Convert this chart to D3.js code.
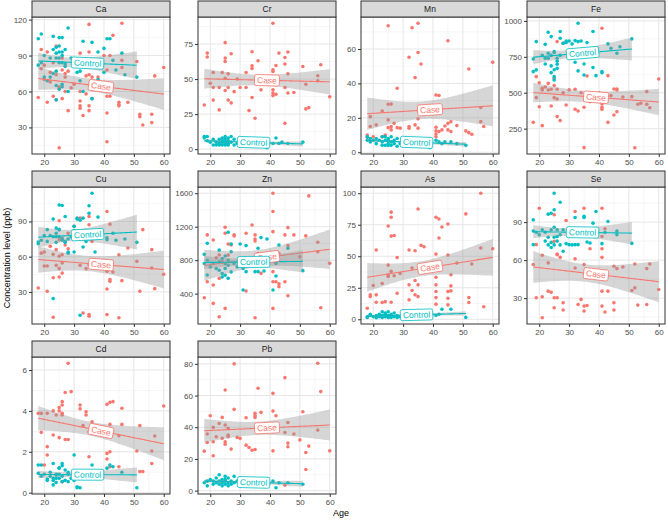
<!DOCTYPE html>
<html>
<head>
<meta charset="utf-8">
<script src="https://cdn.jsdelivr.net/npm/d3@7"></script>
<style>
  body { margin: 0; background: #fff; }
  text { font-family: "Liberation Sans", Arial, sans-serif; }
</style>
</head>
<body>
<div id="chart"></div>
<script>
"use strict";

/* Data: facets, groups, tick labels */
const elements = ["Ca", "Cr", "Mn", "Fe", "Cu", "Zn", "As", "Se", "Cd", "Pb"];
const groups = ["Case", "Control"];
const groupColors = ["#F8766D", "#00BFC4"];
const xTicks = [20, 30, 40, 50, 60];

const caTicks = [30, 60, 90, 120];
const crTicks = [0, 25, 50, 75];
const mnTicks = [0, 20, 40, 60];
const feTicks = [250, 500, 750, 1000];
const cuTicks = [30, 60, 90];
const znTicks = [400, 800, 1200, 1600];
const asTicks = [0, 25, 50, 75, 100];
const seTicks = [30, 60, 90];
const cdTicks = [0, 2, 4, 6];
const pbTicks = [0, 20, 40, 60, 80];

/* [age, concentration] pairs */
const caCase = [[18,55],[19,95],[19,79],[20,70],[21,93],[21,51],[22,68],[23,56],[24,53],[24,98],[25,13],[25,64],[25,62],[26,54],[26,88],[27,60],[27,75],[28,44],[28,77],[29,63],[30,66],[32,92],[32,60],[32,52],[32,48],[32,46],[33,40],[34,58],[34,73],[35,74],[35,116],[35,93],[35,48],[35,44],[36,54],[36,72],[38,72],[40,90],[41,78],[41,64],[41,42],[41,18],[41,56],[42,56],[42,90],[43,107],[46,80],[46,117],[46,86],[45,51],[45,49],[45,48],[48,51],[51,85],[52,41],[52,39],[53,32],[56,41],[56,34],[57,73],[60,80],[20,82],[22,76],[24,74],[26,78],[23,84],[27,72]];
const caControl = [[18,104],[19,108],[18,82],[19,84],[20,72],[21,69],[22,72],[23,95],[23,106],[23,75],[24,77],[24,97],[24,88],[24,65],[24,53],[25,105],[25,98],[25,93],[25,88],[25,84],[25,62],[26,105],[26,93],[26,84],[26,66],[26,64],[27,81],[27,95],[27,83],[28,113],[28,60],[29,88],[30,86],[31,76],[32,77],[32,69],[33,102],[33,60],[34,81],[36,101],[36,54],[38,93],[40,96],[41,104],[42,104],[43,86],[46,92],[51,72],[20,90],[22,88],[24,92],[26,90],[40,76],[44,78],[47,74],[38,70]];

const crCase = [[18,31.5],[19,68.5],[19,65.7],[20,47],[21,54.7],[21,35],[21,44],[23,28],[23,44],[24,54.7],[25,65],[25,62.6],[25,50.6],[25,41.8],[25,76],[26,53.7],[26,35],[26,44],[27,68],[27,33],[28,41],[29,50],[30,44],[32,54.7],[32,44],[33,27.5],[34,69.5],[34,57.5],[34,59.5],[34,36.8],[35,22],[36,63],[37,42.3],[41,89.8],[41,56.6],[41,55.4],[41,42.3],[41,40],[41,38.2],[42,39.2],[42,59.7],[43,68.5],[45,65.4],[45,60.7],[45,44],[45,18.4],[46,69.3],[46,53.7],[46,40],[48,40.4],[51,59],[52,46.3],[52,28.7],[53,29.6],[56,52.3],[56,48.7],[57,60.2],[60,37.3]];
const crControl = [[18,9],[18,8],[19,6],[19,9],[20,5],[21,7],[21,3],[22,3],[22,5],[23,3],[23,7],[23,4],[24,8],[24,3],[24,5],[24,6],[25,9],[25,4],[25,7],[25,3],[25,5],[26,8],[26,4],[26,6],[26,3],[27,9],[27,5],[28,3],[28,7],[29,4],[30,6],[31,5],[32,3],[33,4],[33,7],[34,5],[35,3],[39,1],[41,4],[42,8],[43,4],[44,5],[46,4],[51,5]];

const mnCase = [[18,10],[18,8.7],[19,20.7],[19,15],[20,9],[21,15.9],[23,24],[23,9],[24,10],[25,73.5],[25,18.8],[25,14.3],[25,27.9],[26,14.9],[26,28],[26,13],[27,16.8],[28,37.2],[28,14.3],[29,14],[32,55.2],[32,15],[32,14],[33,72.4],[34,43.4],[34,15.9],[35,75],[35,58],[36,51.3],[35,14],[35,19.4],[41,33.3],[42,33],[41,14.5],[41,12.4],[41,10.6],[41,9],[42,12],[43,13],[44,15.3],[45,64.8],[45,16.8],[45,13],[46,17.8],[46,12],[48,15.5],[51,12.4],[52,48.4],[52,11.4],[53,10.5],[56,26],[56,17.8],[57,15],[60,52.3]];
const mnControl = [[18,9],[18,7],[19,8],[19,6],[20,7],[21,8],[21,5],[22,7],[23,4],[23,9],[23,6],[24,4],[24,7],[24,9],[25,5],[25,8],[25,4],[25,7],[26,6],[26,9],[26,4],[27,7],[27,5],[28,8],[28,3.5],[29,5],[30,7],[31,4],[32,6],[33,5],[34,8],[35,5],[38,6],[39,2.6],[41,7],[42,6],[43,5],[44,6],[46,6],[48,5],[51,4]];

const feCase = [[18,294],[19,612],[19,466],[20,403],[21,531],[21,519],[21,271],[23,519],[24,408],[24,524],[25,601],[25,466],[26,524],[26,457],[26,334],[26,856],[27,306],[28,844],[29,415],[32,524],[32,385],[33,373],[35,118],[35,399],[36,617],[37,438],[41,949],[41,422],[41,399],[41,385],[43,619],[43,294],[45,526],[46,519],[45,345],[46,368],[46,526],[51,473],[52,117],[53,420],[54,427],[56,508],[56,420],[57,396],[60,596],[22,540],[28,500],[30,520],[34,500],[38,480],[40,500],[44,480],[48,470],[20,570],[23,565],[25,550]];
const feControl = [[18,735],[18,647],[19,856],[19,659],[22,740],[22,837],[23,921],[23,775],[23,740],[24,891],[24,687],[25,612],[25,589],[25,786],[26,740],[26,698],[26,670],[27,879],[27,926],[28,844],[29,860],[29,849],[32,863],[32,712],[33,652],[33,984],[33,856],[35,624],[36,849],[38,675],[38,926],[39,619],[41,647],[44,810],[46,775],[51,875],[21,760],[22,700],[24,760],[25,780],[26,720],[27,760],[24,640],[25,660],[30,860],[31,840],[34,860],[35,700],[41,640],[43,840],[47,820]];

const cuCase = [[18,33.4],[19,63],[20,52],[21,52],[21,30.6],[22,68.8],[23,42],[23,8.5],[24,52.6],[25,42.7],[25,50],[25,60.3],[25,74.4],[25,90.6],[26,75.8],[26,54.6],[26,46],[26,61.7],[27,70],[28,80],[28,66.8],[30,85.8],[32,52.6],[32,92.8],[33,12],[34,49.8],[35,87.2],[35,94.2],[35,53.2],[35,10.7],[35,9.3],[36,73],[41,98.5],[41,47.5],[41,32.5],[41,10.7],[42,87.7],[42,40.5],[42,39],[43,47],[45,61.7],[45,8],[46,39.6],[48,67.4],[51,56],[52,30.6],[53,83],[56,50.4],[56,66],[57,32.8],[60,45],[20,64],[23,62],[24,66]];
const cuControl = [[18,71],[18,72.4],[21,83],[23,24.3],[23,92],[24,84.3],[24,72.2],[25,83],[25,104],[26,103.6],[26,75.3],[27,94.2],[27,72.2],[28,64],[28,63],[30,85.8],[30,64],[31,92.8],[31,92],[32,10.2],[32,91],[33,92.8],[33,68.2],[35,103.3],[35,97],[36,114],[37,64],[38,93.7],[41,74.4],[43,80],[51,72.2],[19,74],[20,78],[21,73],[22,78],[23,77],[24,80],[25,77],[25,83],[26,74],[27,73],[28,75],[29,77],[30,82],[24,77],[34,73],[35,75],[41,76],[44,74],[47,75]];

const znCase = [[18,352],[19,1102],[19,543],[21,1042],[21,503],[21,284],[23,862],[23,583],[23,125],[25,1193],[25,1122],[25,224],[26,994],[27,982],[28,1102],[28,1090],[32,1122],[32,432],[34,1221],[35,1102],[35,1054],[35,112],[35,1030],[37,643],[41,1600],[41,1381],[41,1141],[41,663],[41,543],[41,224],[42,543],[43,484],[43,519],[45,543],[45,1102],[46,1189],[46,376],[46,974],[48,1102],[52,1090],[53,1568],[56,1014],[57,232],[60,763],[22,830],[24,780],[26,860],[30,800],[36,880],[43,880],[50,840],[56,900]];
const znControl = [[18,870],[19,1002],[19,623],[26,1134],[26,583],[27,994],[30,994],[31,444],[32,974],[32,663],[35,663],[36,663],[36,942],[37,1070],[38,671],[39,1054],[41,444],[42,611],[43,982],[46,942],[51,675],[18,760],[19,800],[20,720],[21,760],[22,700],[23,680],[23,780],[23,920],[24,640],[24,820],[24,600],[25,760],[25,700],[25,620],[25,850],[26,800],[26,740],[27,660],[27,900],[28,760],[29,720],[30,780],[31,700],[33,760],[34,820],[36,800],[42,760]];

const asCase = [[18,8.8],[19,18],[19,19.4],[20,26.8],[21,55],[21,19.4],[21,13.5],[23,28.4],[23,13.3],[24,14],[25,74],[25,43],[25,34],[25,35],[26,13.5],[26,85],[26,81],[26,38],[26,66],[27,66.5],[27,34.5],[28,49],[28,20.7],[29,36.3],[32,55],[32,27.3],[32,15.4],[33,40.6],[33,22.8],[34,54.4],[34,30.8],[34,19.4],[35,27.3],[35,87.5],[35,18],[36,58.6],[37,57.6],[41,51.7],[41,81],[42,79.6],[41,33.4],[41,22],[41,27.3],[41,17.2],[41,12],[42,64.5],[43,73.2],[45,75.6],[45,51],[45,22],[45,16.7],[45,11.4],[46,35.3],[46,26.5],[46,22.5],[48,44.6],[51,83.6],[52,17.2],[52,13.3],[53,43.8],[56,100],[56,56.5],[57,10],[60,56]];
const asControl = [[18,1.5],[18,2],[19,3],[19,4],[20,2],[21,3],[21,1.2],[22,2],[22,4],[23,3],[23,6],[23,1.5],[24,5],[24,2],[24,4],[25,1.5],[25,3],[25,6],[25,2],[26,4],[26,1.5],[26,3],[27,2],[27,5],[28,3],[28,1.5],[29,2],[30,3],[31,2],[32,4],[33,1.5],[34,3],[35,2],[41,3],[42,4],[43,8],[46,8],[51,1.5]];

const seCase = [[18,56.5],[19,72.2],[19,30.3],[20,101],[21,31],[21,63.8],[21,14.5],[23,35.5],[23,57.8],[24,34.7],[25,74.8],[25,30.3],[25,22.4],[25,95.8],[26,64.8],[26,64.3],[26,30.3],[27,62.2],[28,26.3],[28,20.6],[29,91.3],[32,98.4],[32,61],[32,53.8],[33,25],[34,29],[35,56.5],[35,101],[35,19.8],[35,23.7],[36,24.2],[37,69],[41,101],[41,78.7],[41,69],[41,62.2],[41,35.5],[41,23.7],[42,84.8],[42,19],[43,35.5],[45,55.2],[45,26.3],[45,20.6],[46,53.3],[48,54.6],[51,36],[52,38.1],[52,57],[53,24.5],[56,25],[56,53.3],[57,57],[60,36.8]];
const seControl = [[18,91.8],[18,72.2],[23,96.3],[24,97],[25,112.8],[25,99.7],[27,105.7],[26,78.7],[28,67],[30,72.2],[32,93.7],[32,72.2],[33,72.2],[35,94.5],[35,93.7],[36,74.3],[37,73.5],[38,89.2],[39,98.4],[41,73],[43,90.5],[46,80],[51,73.2],[18,83],[19,82],[20,80],[21,84],[22,82],[22,75],[23,78],[23,72],[24,84],[24,74],[24,70],[25,86],[25,78],[25,72],[26,84],[26,75],[27,80],[27,72],[28,84],[29,73],[30,83],[31,72],[34,80],[42,82],[46,83]];

const cdCase = [[18,3.88],[19,3.88],[19,2.95],[20,1.35],[21,2.25],[21,1.84],[21,3.88],[23,4],[23,2.82],[24,3.8],[25,4.16],[25,4],[25,2.69],[26,3.88],[26,4.45],[26,4.29],[26,3.8],[26,0.54],[27,2.6],[28,6.33],[28,2.6],[27,4.9],[29,4.94],[32,4.29],[32,4.1],[34,3.96],[34,3.8],[33,3.28],[35,2.98],[35,1.76],[36,3.47],[41,4.32],[42,4.42],[43,4.45],[41,1.92],[41,1.65],[42,2.0],[42,3.34],[42,1.27],[45,2.79],[45,1.27],[46,4.13],[46,3.34],[51,2.04],[52,3.28],[52,1.03],[53,1.03],[56,1.43],[56,2.04],[57,2.77],[60,4.24]];
const cdControl = [[18,1.35],[19,1.35],[18,0.95],[21,0.67],[23,1.43],[23,0.38],[24,0.86],[24,0.7],[25,1.22],[25,1.19],[26,1.43],[26,1.32],[26,0.54],[27,1.11],[28,0.9],[28,0.54],[30,1.84],[31,0.29],[31,0.24],[32,0.24],[36,1.35],[42,1.35],[43,1.27],[51,0.24],[19,0.8],[20,0.9],[21,0.6],[22,0.8],[22,1.0],[23,0.7],[23,0.6],[24,0.9],[24,0.5],[25,0.7],[25,0.9],[26,0.8],[27,0.6],[28,1.0],[29,0.7],[30,0.6],[31,0.9],[33,1.0],[34,0.8],[41,1.2],[46,1.0]];

const pbCase = [[18,24.9],[19,35.7],[19,30.4],[20,47.3],[21,39.9],[21,30.8],[21,22],[23,42.4],[24,46.2],[25,63.5],[25,41.4],[25,30.8],[25,29.3],[26,39.3],[26,34],[27,26.2],[28,80],[28,51.3],[29,33.6],[32,46],[32,28.7],[33,27.2],[34,25.5],[35,26],[35,48.8],[35,47.3],[35,46.2],[36,64.6],[37,49.4],[41,61.4],[41,50.2],[41,42.4],[41,25.1],[42,47.3],[45,71.3],[45,3.4],[45,36.7],[46,43],[46,27.7],[48,35.7],[51,49.8],[52,24.1],[52,13.3],[53,28.1],[56,80.4],[56,38.2],[57,62.5],[60,25.1],[22,34],[24,33],[26,35],[30,33],[46,30],[50,32]];
const pbControl = [[18,5],[19,6],[19,3],[20,7],[21,4],[21,6],[22,5],[22,8],[23,10],[23,6],[23,4],[24,7],[24,5],[24,3],[25,9],[25,6],[25,4],[25,7],[26,5],[26,8],[26,3],[27,6],[27,4],[28,9],[28,5],[29,6],[30,4],[31,5],[33,7],[34,5],[41,6],[42,1.8],[43,5],[46,5],[51,4]];

/* Build panel table from the named arrays */
const caseData = [caCase, crCase, mnCase, feCase, cuCase, znCase, asCase, seCase, cdCase, pbCase];
const controlData = [caControl, crControl, mnControl, feControl, cuControl, znControl, asControl, seControl, cdControl, pbControl];
const yTickList = [caTicks, crTicks, mnTicks, feTicks, cuTicks, znTicks, asTicks, seTicks, cdTicks, pbTicks];

/* Layout */
const svgWidth = 668;
const svgHeight = 521;
const colLeft = [32, 198, 361, 527];
const rowTop = [1, 171, 341];
const panelW = 138;
const panelH = 137;
const stripH = 16;

const svg = d3.select("#chart")
  .append("svg")
  .attr("width", svgWidth)
  .attr("height", svgHeight);

svg.append("rect")
  .attr("width", svgWidth)
  .attr("height", svgHeight)
  .attr("fill", "#fff");

/* t quantile (97.5%) approximation for the confidence band */
function tq(df) {
  const z = 1.959964;
  return z + (z ** 3 + z) / (4 * df) + (5 * z ** 5 + 16 * z ** 3 + 3 * z) / (96 * df * df);
}

/* Linear fit with 95% band, like geom_smooth(method = "lm") */
function lmFit(pts) {
  const n = pts.length;
  const mx = d3.mean(pts, d => d[0]);
  const my = d3.mean(pts, d => d[1]);
  let sxx = 0, sxy = 0;
  pts.forEach(d => { sxx += (d[0] - mx) ** 2; sxy += (d[0] - mx) * (d[1] - my); });
  const b = sxy / sxx;
  const a = my - b * mx;
  let sse = 0;
  pts.forEach(d => { sse += (d[1] - a - b * d[0]) ** 2; });
  const s = Math.sqrt(sse / (n - 2));
  const t = tq(n - 2);
  const x0 = d3.min(pts, d => d[0]);
  const x1 = d3.max(pts, d => d[0]);
  const curve = d3.range(80).map(i => {
    const x = x0 + (x1 - x0) * i / 79;
    const yh = a + b * x;
    const se = s * Math.sqrt(1 / n + (x - mx) ** 2 / sxx);
    return { x: x, y: yh, lo: yh - t * se, hi: yh + t * se };
  });
  return { a: a, b: b, x0: x0, x1: x1, curve: curve };
}

function expand(lo, hi) {
  const pad = (hi - lo) * 0.05;
  return [lo - pad, hi + pad];
}

/* Shared x scale */
const allAges = caseData.concat(controlData).flat().map(d => d[0]);
const xDomain = expand(d3.min(allAges), d3.max(allAges));

elements.forEach(function (el, i) {
  const col = i % 4;
  const row = Math.floor(i / 4);
  const left = colLeft[col];
  const top = rowTop[row] + stripH;
  const sets = [caseData[i], controlData[i]];
  const fits = sets.map(lmFit);

  const allY = sets.flat().map(d => d[1])
    .concat(fits.flatMap(f => f.curve.flatMap(c => [c.lo, c.hi])));
  const yDomain = expand(d3.min(allY), d3.max(allY));

  const xScale = d3.scaleLinear().domain(xDomain).range([0, panelW]);
  const yScale = d3.scaleLinear().domain(yDomain).range([panelH, 0]);

  const g = svg.append("g").attr("transform", "translate(" + left + "," + top + ")");

  /* grid: minor then major */
  const yTicks = yTickList[i];
  const step = yTicks[1] - yTicks[0];
  const yMinor = [];
  for (let v = yTicks[0] - step / 2; v <= yDomain[1]; v += step) {
    if (v >= yDomain[0]) yMinor.push(v);
  }
  const xMinor = [];
  for (let v = xTicks[0] - 5; v <= xDomain[1]; v += 10) {
    if (v >= xDomain[0]) xMinor.push(v);
  }
  g.selectAll(".ymin").data(yMinor).enter().append("line")
    .attr("x1", 0).attr("x2", panelW)
    .attr("y1", d => yScale(d)).attr("y2", d => yScale(d))
    .attr("stroke", "#f0f0f0").attr("stroke-width", 0.6);
  g.selectAll(".xmin").data(xMinor).enter().append("line")
    .attr("y1", 0).attr("y2", panelH)
    .attr("x1", d => xScale(d)).attr("x2", d => xScale(d))
    .attr("stroke", "#f0f0f0").attr("stroke-width", 0.6);
  g.selectAll(".ymaj").data(yTicks).enter().append("line")
    .attr("x1", 0).attr("x2", panelW)
    .attr("y1", d => yScale(d)).attr("y2", d => yScale(d))
    .attr("stroke", "#e6e6e6").attr("stroke-width", 1);
  g.selectAll(".xmaj").data(xTicks).enter().append("line")
    .attr("y1", 0).attr("y2", panelH)
    .attr("x1", d => xScale(d)).attr("x2", d => xScale(d))
    .attr("stroke", "#e6e6e6").attr("stroke-width", 1);

  /* points */
  sets.forEach(function (pts, k) {
    g.selectAll(".pt" + k).data(pts).enter().append("circle")
      .attr("cx", d => xScale(d[0]))
      .attr("cy", d => yScale(d[1]))
      .attr("r", 1.8)
      .attr("fill", groupColors[k]);
  });

  /* ribbons, lines and labels per group */
  fits.forEach(function (f, k) {
    const area = d3.area()
      .x(d => xScale(d.x))
      .y0(d => yScale(d.lo))
      .y1(d => yScale(d.hi));
    g.append("path")
      .attr("d", area(f.curve))
      .attr("fill", "#999999")
      .attr("fill-opacity", 0.4);
    const line = d3.line().x(d => xScale(d.x)).y(d => yScale(d.y));
    g.append("path")
      .attr("d", line(f.curve))
      .attr("fill", "none")
      .attr("stroke", groupColors[k])
      .attr("stroke-width", 1.1);
  });

  fits.forEach(function (f, k) {
    const xm = (f.x0 + f.x1) / 2;
    const px = xScale(xm);
    const py = yScale(f.a + f.b * xm);
    const dx = xScale(f.x1) - xScale(f.x0);
    const dy = yScale(f.a + f.b * f.x1) - yScale(f.a + f.b * f.x0);
    const angle = Math.atan2(dy, dx) * 180 / Math.PI;
    const lg = g.append("g")
      .attr("transform", "translate(" + px + "," + py + ") rotate(" + angle + ")");
    const rect = lg.append("rect");
    const txt = lg.append("text")
      .attr("text-anchor", "middle")
      .attr("dy", "0.35em")
      .attr("font-size", "8.5px")
      .attr("fill", groupColors[k])
      .text(groups[k]);
    const w = txt.node().getComputedTextLength() + 5;
    rect.attr("x", -w / 2).attr("y", -5.5)
      .attr("width", w).attr("height", 11)
      .attr("rx", 1.8)
      .attr("fill", "#fff")
      .attr("stroke", groupColors[k])
      .attr("stroke-width", 0.8);
  });

  /* panel border */
  g.append("rect")
    .attr("width", panelW).attr("height", panelH)
    .attr("fill", "none").attr("stroke", "#333").attr("stroke-width", 1);

  /* strip */
  g.append("rect")
    .attr("y", -stripH).attr("width", panelW).attr("height", stripH)
    .attr("fill", "#d9d9d9").attr("stroke", "#333").attr("stroke-width", 1);
  g.append("text")
    .attr("x", panelW / 2).attr("y", -stripH / 2)
    .attr("dy", "0.35em")
    .attr("text-anchor", "middle")
    .attr("font-size", "8.5px")
    .attr("fill", "#1a1a1a")
    .text(el);

  /* axes */
  const yAxis = d3.axisLeft(yScale).tickValues(yTicks).tickFormat(d => String(d))
    .tickSize(3).tickPadding(2);
  const xAxis = d3.axisBottom(xScale).tickValues(xTicks).tickFormat(d => String(d))
    .tickSize(3).tickPadding(2);
  const ya = g.append("g").call(yAxis);
  const xa = g.append("g").attr("transform", "translate(0," + panelH + ")").call(xAxis);
  [ya, xa].forEach(function (ax) {
    ax.select(".domain").remove();
    ax.selectAll("line").attr("stroke", "#333");
    ax.selectAll("text")
      .attr("font-size", "8px")
      .attr("fill", "#4d4d4d")
      .style("font-family", "'Liberation Sans', Arial, sans-serif");
  });
});

/* axis titles */
svg.append("text")
  .attr("x", 341)
  .attr("y", 516)
  .attr("text-anchor", "middle")
  .attr("font-size", "9px")
  .text("Age");

svg.append("text")
  .attr("transform", "translate(10,258) rotate(-90)")
  .attr("text-anchor", "middle")
  .attr("font-size", "9px")
  .text("Concentration level (ppb)");
</script>
</body>
</html>
